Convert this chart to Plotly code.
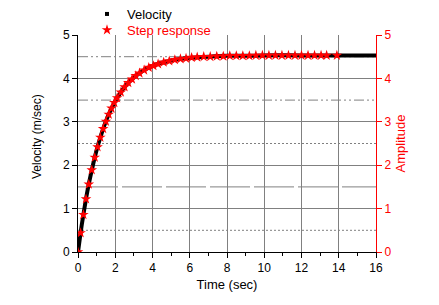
import plotly.graph_objects as go

# Velocity (black line)
vel_t = [0, 0.1, 0.2, 0.3, 0.4, 0.5, 0.6, 0.8, 1.0, 1.2, 1.4, 1.6, 1.8, 2.0, 2.25, 2.5, 2.75,
         3.0, 3.5, 4.0, 4.5, 5.0, 5.5, 6.0, 7.0, 8.0, 9.0, 10.0, 12.0, 14.0, 16.0]
vel_v = [0, 0.32, 0.62, 0.89, 1.15, 1.39, 1.61, 2.00, 2.35, 2.64, 2.90, 3.12, 3.31, 3.48, 3.65, 3.80, 3.92,
         4.02, 4.18, 4.29, 4.36, 4.41, 4.45, 4.47, 4.50, 4.52, 4.52, 4.53, 4.53, 4.53, 4.53]

# Step response (red stars)
step_t = [0, 0.14, 0.29, 0.43, 0.58, 0.74, 0.9, 1.05, 1.2, 1.35, 1.5, 1.65, 1.8, 1.95, 2.1, 2.3, 2.5,
          2.7, 2.9, 3.1, 3.3, 3.55, 3.8, 4.05, 4.3, 4.6, 4.9, 5.2, 5.5, 5.8, 6.1, 6.4, 6.75, 7.1,
          7.45, 7.8, 8.15, 8.5, 8.85, 9.2, 9.55, 9.9, 10.25, 10.6, 10.95, 11.3, 11.65, 12.0, 12.35,
          12.7, 13.05, 13.35, 13.9]
step_v = [0, 0.44, 0.86, 1.22, 1.56, 1.89, 2.18, 2.42, 2.64, 2.84, 3.01, 3.17, 3.31, 3.44, 3.55, 3.68, 3.80,
          3.90, 3.98, 4.06, 4.12, 4.19, 4.25, 4.29, 4.33, 4.37, 4.40, 4.43, 4.45, 4.46, 4.48, 4.49, 4.50, 4.50,
          4.51, 4.51, 4.52, 4.52, 4.52, 4.52, 4.53, 4.53, 4.53, 4.53, 4.53, 4.53, 4.53, 4.53, 4.53,
          4.53, 4.53, 4.53, 4.53]

x_ticks = [0, 2, 4, 6, 8, 10, 12, 14, 16]
y_ticks = [0, 1, 2, 3, 4, 5]
half_levels = [0.5, 1.5, 2.5, 3.5, 4.5]
half_dash = ["2px,2px", "40px,4px", "2px,2px", "10px,3px,2px,3px,2px,3px", "10px,3px,2px,3px,2px,3px"]

FONT = "Liberation Sans, Arial, sans-serif"
GRID = "#808080"
W, H = 431, 297  # page body adds an 8px offset

fig = go.Figure()

fig.add_trace(go.Scatter(x=vel_t, y=vel_v, mode="lines", line=dict(color="black", width=4, shape="spline"),
                         showlegend=False))
fig.add_trace(go.Scatter(x=[None], y=[None], mode="markers", name="Velocity", legend="legend",
                         marker=dict(symbol="square", size=4, color="black")))
fig.add_trace(go.Scatter(x=step_t, y=step_v, mode="markers",
                         name="<span style='color:red'>Step response</span>", legend="legend2",
                         marker=dict(symbol="star", size=8, color="red", line=dict(width=0)),
                         yaxis="y2"))

shapes = []
for lvl, d in zip(half_levels, half_dash):
    shapes.append(dict(type="line", xref="x", yref="y", x0=0, x1=16, y0=lvl, y1=lvl,
                       line=dict(color=GRID, width=1, dash=d), layer="below"))

leg_common = dict(xref="container", yref="container", xanchor="left", yanchor="middle",
                  bgcolor="rgba(0,0,0,0)", font=dict(size=13), itemwidth=30)

fig.update_layout(
    width=W, height=H,
    margin=dict(l=70, r=63, t=27, b=53, autoexpand=False),
    paper_bgcolor="white", plot_bgcolor="white",
    font=dict(family=FONT, size=12, color="black"),
    shapes=shapes,
    showlegend=True,
    legend=dict(x=79 / W, y=1 - 6 / H, **leg_common),
    legend2=dict(x=79 / W, y=1 - 22 / H, **leg_common),
    annotations=[dict(text="Velocity (m/sec)", textangle=-90, xref="paper", yref="paper",
                      x=(37 - 78) / 298, y=(252 - 137) / 217, xanchor="center", yanchor="middle",
                      showarrow=False, font=dict(size=12, color="black"))],
    xaxis=dict(range=[0, 16], tickvals=x_ticks, showgrid=True, gridcolor=GRID, gridwidth=1,
               showline=True, linecolor="black", linewidth=1, ticks="outside", ticklen=5,
               tickcolor="black", zeroline=False,
               minor=dict(dtick=1, ticks="outside", ticklen=3, tickcolor="black", showgrid=False),
               title=dict(text="Time (sec)", standoff=5, font=dict(size=13))),
    yaxis=dict(range=[0, 5], tickvals=y_ticks, showgrid=True, gridcolor=GRID, gridwidth=1,
               showline=True, linecolor="black", linewidth=1, ticks="outside", ticklen=5,
               tickcolor="black", zeroline=False),
    yaxis2=dict(range=[0, 5], tickvals=y_ticks, overlaying="y", side="right", showgrid=False,
                showline=True, linecolor="red", linewidth=1, ticks="outside", ticklen=5,
                tickcolor="red", tickfont=dict(color="red"), zeroline=False,
                title=dict(text="Amplitude", font=dict(color="red", size=13), standoff=5)),
)

fig.write_html("out.html")
